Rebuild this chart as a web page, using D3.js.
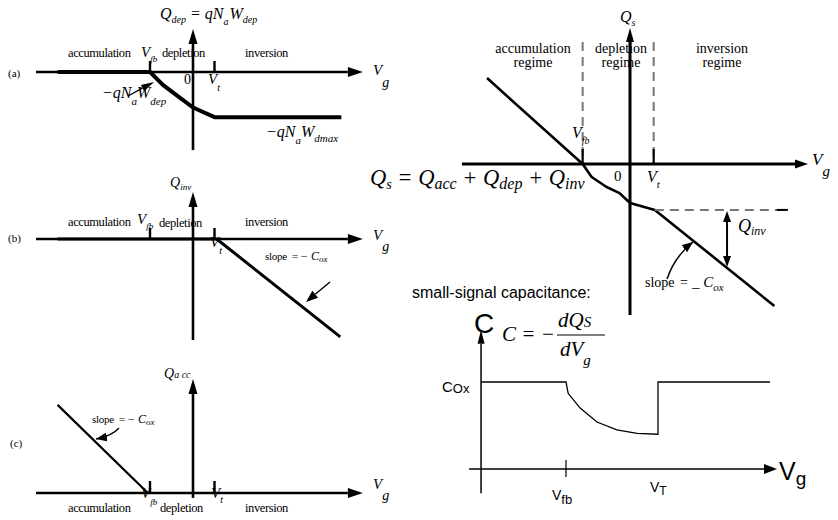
<!DOCTYPE html>
<html><head><meta charset="utf-8">
<script src="https://cdn.jsdelivr.net/npm/d3@7"></script>
<style>body{margin:0;background:#fff}svg{display:block}</style>
</head><body>
<svg id="fig" width="838" height="520"></svg>
<script>
// Flat-band and threshold gate voltages (axis units)
const VFB = -2, VT = 1;

// (a) depletion charge Q_dep versus gate voltage
const depVg = [-6.3, -2, -1.4, -0.6, 0, 1, 6.9];
const depQ  = [0, 0, -0.6, -1.2, -1.65, -2.1, -2.1];

// (b) inversion charge Q_inv versus gate voltage
const invVg = [-6.3, 1.1, 6.85];
const invQ  = [0, 0, -4.55];

// (c) accumulation charge Q_acc versus gate voltage
const accVg = [-6.3, -2.1, 6.85];
const accQ  = [4.1, 0, 0];

// total semiconductor charge Q_s = Q_acc + Q_dep + Q_inv
const qsVg = [-6.04, -2, -1.62, -0.99, -0.44, 0, 1.05, 6.1];
const qsQ  = [3.63, 0, -0.55, -0.97, -1.23, -1.65, -1.94, -6.0];

// small-signal capacitance, normalised to C_ox
const cvVg = [-4.77, -2, -1.93, -1.54, -0.99, -0.34, 0.32, 1, 1, 4.65];
const cvC  = [1, 1, 0.87, 0.70, 0.54, 0.45, 0.41, 0.40, 1, 1];

// region names
const regions = ["accumulation", "depletion", "inversion"];

const svg = d3.select("#fig");
const SERIF = "'Liberation Serif','Times New Roman',serif";
const SANS = "'Liberation Sans',Arial,sans-serif";

svg.append("defs").append("marker")
  .attr("id", "head").attr("markerUnits", "userSpaceOnUse")
  .attr("markerWidth", 11).attr("markerHeight", 9)
  .attr("refX", 11).attr("refY", 4.5).attr("orient", "auto")
  .append("path").attr("d", "M0,0L11,4.5L0,9Z").attr("fill", "#000");

// line with a solid triangular head at (x2,y2)
function arrowLine(x1, y1, x2, y2, sw, hl, hw) {
  const a = Math.atan2(y2 - y1, x2 - x1);
  const bx = x2 - hl * Math.cos(a), by = y2 - hl * Math.sin(a);
  svg.append("line").attr("x1", x1).attr("y1", y1).attr("x2", bx).attr("y2", by)
    .attr("stroke", "#000").attr("stroke-width", sw);
  const px = -Math.sin(a) * hw / 2, py = Math.cos(a) * hw / 2;
  svg.append("path")
    .attr("d", `M${x2},${y2}L${bx + px},${by + py}L${bx - px},${by - py}Z`)
    .attr("fill", "#000");
}

// text made of normal and subscript pieces: [[text, drop, size, dx], ...]
function mtext(x, y, parts, size, opts = {}) {
  const t = svg.append("text").attr("x", x).attr("y", y)
    .attr("font-family", opts.family || SERIF)
    .attr("font-style", opts.italic === false ? "normal" : "italic")
    .attr("font-size", size).attr("fill", "#000");
  if (opts.anchor) t.attr("text-anchor", opts.anchor);
  if (opts.ls) t.attr("letter-spacing", opts.ls);
  let cur = 0;
  parts.forEach(([s, drop, sz, dx]) => {
    const d = (drop || 0) - cur;
    const sp = t.append("tspan").attr("dy", d).text(s);
    if (sz) sp.attr("font-size", sz);
    if (dx) sp.attr("dx", dx);
    cur = drop || 0;
  });
  return t;
}
function plain(x, y, s, size, opts = {}) {
  const t = svg.append("text").attr("x", x).attr("y", y).text(s)
    .attr("font-family", opts.family || SERIF).attr("font-size", size).attr("fill", "#000");
  if (opts.anchor) t.attr("text-anchor", opts.anchor);
  if (opts.ls) t.attr("letter-spacing", opts.ls);
  return t;
}
function curve(xs, ys, xS, yS, sw) {
  const pts = xs.map((v, i) => [xS(v), yS(ys[i])]);
  svg.append("path").attr("d", d3.line()(pts))
    .attr("fill", "none").attr("stroke", "#000").attr("stroke-width", sw)
    .attr("stroke-linejoin", "round");
}

// ---------- left column: charge components ----------
const xL = d3.scaleLinear().domain([0, 1]).range([193, 214.5]);
function leftFrame(axisY, yTop, yBot, tickLen) {
  const yS = d3.scaleLinear().domain([0, 1]).range([axisY, axisY - 21.5]);
  arrowLine(xL(-7.3), axisY, xL(7.9), axisY, 2.6, 15, 10);
  arrowLine(xL(0), yS(yBot), xL(0), yS(yTop), 2.6, 15, 9);
  [VFB, VT].forEach(v => svg.append("line")
    .attr("x1", xL(v)).attr("x2", xL(v)).attr("y1", axisY - tickLen).attr("y2", axisY)
    .attr("stroke", "#000").attr("stroke-width", 2.4));
  return yS;
}

// (a)
const yA = leftFrame(72, 2.0, -3.63, 11);
curve(depVg, depQ, xL, yA, 4);
mtext(160, 19, [["Q", 0], ["dep", 4, 10], [" = qN", 0], ["a", 6, 10], ["W", 0, null, 1], ["dep", 4, 10]], 16);
plain(68, 57, regions[0], 12.5, { ls: -0.4 });
mtext(141, 57, [["V", 0], ["fb", 5, 9]], 15);
plain(162, 57, regions[1], 12.5, { ls: -0.4 });
plain(245, 57, regions[2], 12.5, { ls: -0.4 });
plain(8, 77, "(a)", 11);
plain(184, 84, "0", 14);
mtext(208, 84, [["V", 0], ["t", 7, 10]], 15);
mtext(373, 75, [["V", 0], ["g", 12, 14]], 15);
mtext(102, 98, [["−qN", 0], ["a", 7, 11], ["W", 0], ["dep", 7, 11]], 16);
arrowLine(128, 96, 154, 82, 1.3, 13, 7);
mtext(266, 137, [["−qN", 0], ["a", 7, 11], ["W", 0], ["dmax", 5, 11]], 16);

// (b)
const yB = leftFrame(239, 2.19, -4.7, 11);
curve(invVg, invQ, xL, yB, 3);
mtext(170, 187, [["Q", 0], ["inv", 3, 9]], 14);
plain(68, 226, regions[0], 12.5, { ls: -0.4 });
mtext(137, 224, [["V", 0], ["fb", 5, 9]], 15);
plain(159, 227, regions[1], 12.5, { ls: -0.4 });
plain(245, 226, regions[2], 12.5, { ls: -0.4 });
plain(8, 242, "(b)", 11);
mtext(210, 247, [["V", 0], ["t", 7, 10]], 15);
mtext(373, 240, [["V", 0], ["g", 11, 14]], 15);
plain(265, 260, "slope", 11, { ls: -0.3 });
plain(292, 260, "=", 11);
mtext(300, 260, [["− C", 0], ["ox", 2, 9]], 12);
arrowLine(330, 282, 306, 302, 1.4, 12, 9);

// (c)
const yC = leftFrame(493, 5.3, -0.23, 12);
curve(accVg, accQ, xL, yC, 2.2);
mtext(164, 378, [["Q", 0], ["a cc", 0, 10]], 14);
plain(92, 423, "slope", 11, { ls: -0.3 });
plain(119, 423, "=", 11);
mtext(127, 423, [["− C", 0], ["ox", 2, 9]], 12);
svg.append("path").attr("d", "M119,428Q112,436 96,439")
  .attr("fill", "none").attr("stroke", "#000").attr("stroke-width", 1.3)
  .attr("marker-end", "url(#head)");
plain(10, 447, "(c)", 11);
plain(68, 512, regions[0], 12.5, { ls: -0.4 });
mtext(141, 498, [["V", 0], ["fb", 7, 9]], 15);
plain(160, 512, regions[1], 12.5, { ls: -0.4 });
mtext(211, 498, [["V", 0], ["t", 5, 10]], 15);
plain(245, 512, regions[2], 12.5, { ls: -0.4 });
mtext(373, 489, [["V", 0], ["g", 11, 14]], 15);

// ---------- top right: total charge ----------
const xR = d3.scaleLinear().domain([0, 1]).range([630, 653.67]);
const yR = d3.scaleLinear().domain([0, 1]).range([164, 140.33]);
[VFB, VT].forEach(v => {
  svg.append("line").attr("x1", xR(v)).attr("x2", xR(v)).attr("y1", 42).attr("y2", 164)
    .attr("stroke", "#777").attr("stroke-width", 2).attr("stroke-dasharray", "9,6");
  svg.append("line").attr("x1", xR(v)).attr("x2", xR(v)).attr("y1", 149).attr("y2", 164)
    .attr("stroke", "#000").attr("stroke-width", 2.2);
});
arrowLine(xR(-7.1), yR(0), xR(7.52), yR(0), 3, 13, 9);
arrowLine(xR(0), yR(-6.38), xR(0), yR(5.75), 3, 14, 8);
curve(qsVg, qsQ, xR, yR, 2.6);
svg.append("line").attr("x1", xR(1.05)).attr("x2", xR(6.67))
  .attr("y1", yR(-1.94)).attr("y2", yR(-1.94))
  .attr("stroke", "#777").attr("stroke-width", 2).attr("stroke-dasharray", "9,6");
svg.append("line").attr("x1", xR(6.2)).attr("x2", xR(6.67))
  .attr("y1", yR(-1.94)).attr("y2", yR(-1.94)).attr("stroke", "#000").attr("stroke-width", 2);
// Q_inv span between the dashed level and the Q_s line
{
  const xq = xR(4.1), ya = yR(-1.94) + 1, yb = 267;
  arrowLine(xq, (ya + yb) / 2, xq, ya, 2, 11, 8);
  arrowLine(xq, (ya + yb) / 2, xq, yb, 2, 11, 8);
}
mtext(738, 232, [["Q", 0], ["inv", 3, 12]], 18);
plain(645, 287, "slope", 14);
plain(680, 287, "=", 14);
mtext(692, 287, [["_ C", 0], ["ox", 4, 11]], 15);
svg.append("path").attr("d", "M667,279Q675,256 693,242")
  .attr("fill", "none").attr("stroke", "#000").attr("stroke-width", 1.5)
  .attr("marker-end", "url(#head)");
mtext(620, 22, [["Q", 0], ["s", 4, 10]], 16);
plain(533, 53, regions[0], 14, { anchor: "middle" });
plain(533, 67, "regime", 14, { anchor: "middle" });
plain(621, 53, regions[1], 14, { anchor: "middle" });
plain(621, 67, "regime", 14, { anchor: "middle" });
plain(722, 53, regions[2], 14, { anchor: "middle" });
plain(722, 67, "regime", 14, { anchor: "middle" });
mtext(572, 138, [["V", 0], ["fb", 6, 10]], 16);
plain(614, 181, "0", 15);
mtext(647, 182, [["V", 0], ["t", 6, 11]], 16);
mtext(812, 165, [["V", 0], ["g", 11, 15]], 17);
mtext(370, 185, [["Q", 0], ["s", 4, 14], [" = Q", 0], ["acc", 4, 16], [" + Q", 0], ["dep", 4, 16], [" + Q", 0], ["inv", 4, 16]], 22.5);

// ---------- bottom right: capacitance ----------
plain(412, 298, "small-signal capacitance:", 16, { family: SANS });
const xC = d3.scaleLinear().domain([-2, 1]).range([566, 658]);
const yCv = d3.scaleLinear().domain([0, 1]).range([469, 382]);
arrowLine(xC(-5.16), yCv(0), xC(4.88), yCv(0), 1.5, 13, 10);
arrowLine(xC(-4.77), yCv(-0.28), xC(-4.77), yCv(1.6), 1.5, 14, 7);
svg.append("line").attr("x1", xC(VFB)).attr("x2", xC(VFB)).attr("y1", 460).attr("y2", 477)
  .attr("stroke", "#000").attr("stroke-width", 1.2);
svg.append("path").attr("d", d3.line()(cvVg.map((v, i) => [xC(v), yCv(cvC[i])])))
  .attr("fill", "none").attr("stroke", "#000").attr("stroke-width", 1.3);
plain(474, 333, "C", 28, { family: SANS });
mtext(502, 341, [["C", 0], [" = −", 0]], 21);
mtext(558, 327, [["dQ", 0], ["S", 0, 15]], 21);
svg.append("line").attr("x1", 557).attr("x2", 605).attr("y1", 335).attr("y2", 335)
  .attr("stroke", "#000").attr("stroke-width", 1.2);
mtext(560, 356, [["dV", 0], ["g", 9, 15]], 21);
mtext(442, 392, [["C", 0, null], ["Ox", 1, 13]], 15, { family: SANS, italic: false });
mtext(552, 500, [["V", 0], ["fb", 4, 13]], 14, { family: SANS, italic: false });
mtext(650, 492, [["V", 0], ["T", 3, 12]], 14, { family: SANS, italic: false });
mtext(779, 480, [["V", 0], ["g", 5, 19]], 25, { family: SANS, italic: false });
</script>
</body></html>
